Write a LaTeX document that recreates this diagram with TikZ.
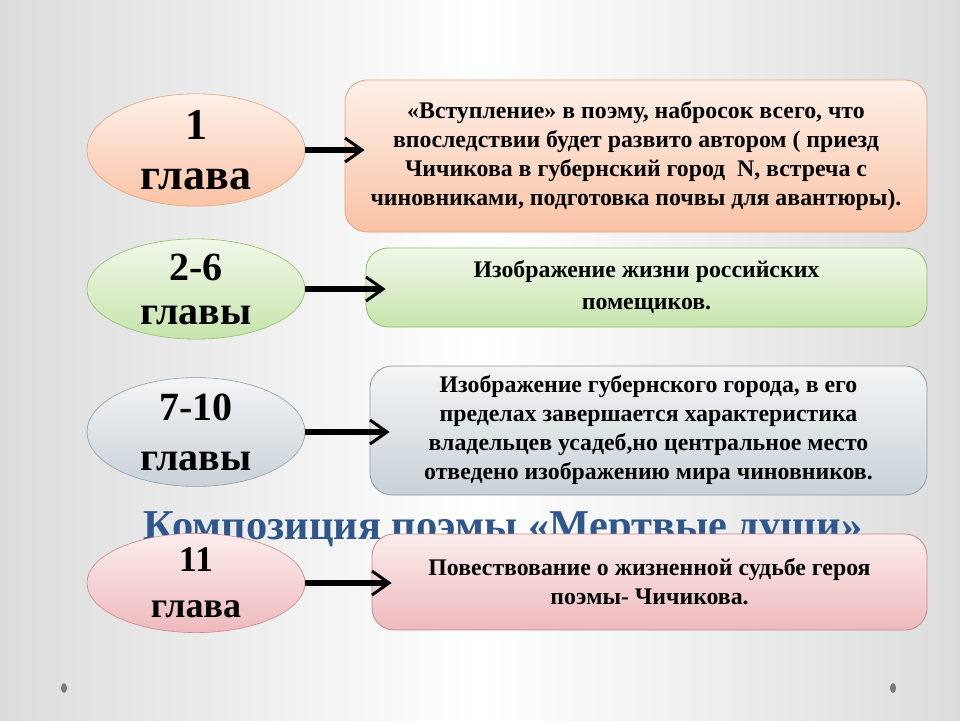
\documentclass[tikz,border=0pt]{standalone}
\usepackage{fontspec}
\setmainfont{Liberation Serif}
\usetikzlibrary{shapes.geometric,arrows.meta}
\definecolor{bgedge}{HTML}{DCDCDC}
\definecolor{peachtop}{HTML}{FEF0E8}
\definecolor{peachbot}{HTML}{FAC3A5}
\definecolor{peachline}{HTML}{E2A27E}
\definecolor{greentop}{HTML}{F1F8EA}
\definecolor{greenbot}{HTML}{C7E4AC}
\definecolor{greenline}{HTML}{8FBF62}
\definecolor{graytop}{HTML}{F3F5F6}
\definecolor{graybot}{HTML}{C9D1D7}
\definecolor{grayline}{HTML}{8E9CA6}
\definecolor{pinktop}{HTML}{FCEDED}
\definecolor{pinkbot}{HTML}{EEB9BD}
\definecolor{pinkline}{HTML}{C8868C}
\definecolor{titleblue}{HTML}{2F578D}
\definecolor{dotgray}{HTML}{7A7A7A}
\begin{document}
\begin{tikzpicture}[
        x=1pt, y=-1pt,
        chapter/.style = {ellipse, draw, line width=0.6pt, minimum width=218pt,
            minimum height=95pt, inner sep=0pt, align=center, font=\bfseries},
        infobox/.style = {rectangle, rounded corners=22pt, draw, line width=0.8pt,
            align=center, inner sep=0pt,
            font=\bfseries\fontsize{23.8}{29}\selectfont},
        link/.style = {line width=5.5pt, shorten >=-20pt,
            -{Straight Barb[length=17pt,width=24pt,line width=3pt]}}
    ]
    \useasboundingbox (0,0) rectangle (960,720);
    \fill[left color=bgedge, right color=bgedge, middle color=white] (0,0) rectangle (960,720);
    \fill[dotgray] (64,688) ellipse (3 and 5);
    \fill[dotgray] (893,688) ellipse (3 and 5);
    %
    \node[anchor=base, text=titleblue, font=\bfseries\fontsize{42.5}{44}\selectfont]
        (title) at (503,539) {Композиция поэмы «Мертвые души»};
    %
    \node[chapter, draw=peachline, top color=peachtop, bottom color=peachbot,
        font=\bfseries\fontsize{44}{50}\selectfont] (ch1) at (196,150) {1\\глава};
    \node[chapter, draw=greenline, top color=greentop, bottom color=greenbot,
        font=\bfseries\fontsize{40}{44}\selectfont] (ch2) at (196,289) {2-6\\главы};
    \node[chapter, draw=grayline, top color=graytop, bottom color=graybot,
        minimum height=93pt,
        font=\bfseries\fontsize{40}{50}\selectfont] (ch3) at (196,432) {7-10\\главы};
    \node[chapter, draw=pinkline, top color=pinktop, bottom color=pinkbot,
        minimum height=93pt,
        font=\bfseries\fontsize{36}{46}\selectfont] (ch4) at (196,583) {11\\глава};
    %
    \node[infobox, draw=peachline, top color=peachtop, bottom color=peachbot,
        minimum width=582pt, minimum height=152pt] (box1) at (636,156)
        {«Вступление» в поэму, набросок всего, что\\
         впоследствии будет развито автором ( приезд\\
         Чичикова в губернский город~ N, встреча с\\
         чиновниками, подготовка почвы для авантюры).};
    \node[infobox, draw=greenline, top color=greentop, bottom color=greenbot,
        minimum width=561pt, minimum height=79pt,
        font=\bfseries\fontsize{23.8}{32}\selectfont] (box2) at (646.5,287.5)
        {Изображение жизни российских\\ помещиков.};
    \node[infobox, draw=grayline, top color=graytop, bottom color=graybot,
        minimum width=557pt, minimum height=129pt] (box3) at (648.5,430.5)
        {Изображение губернского города, в его\\
         пределах завершается характеристика\\
         владельцев усадеб,но центральное место\\
         отведено изображению мира чиновников.};
    \node[infobox, draw=pinkline, top color=pinktop, bottom color=pinkbot,
        minimum width=555pt, minimum height=96pt] (box4) at (649.5,582)
        {Повествование о жизненной судьбе героя\\ поэмы- Чичикова.};
    %
    \draw[link] (ch1.east) -- (ch1.east -| box1.west);
    \draw[link] (ch2.east) -- (ch2.east -| box2.west);
    \draw[link] (ch3.east) -- (ch3.east -| box3.west);
    \draw[link] (ch4.east) -- (ch4.east -| box4.west);
\end{tikzpicture}
\end{document}
